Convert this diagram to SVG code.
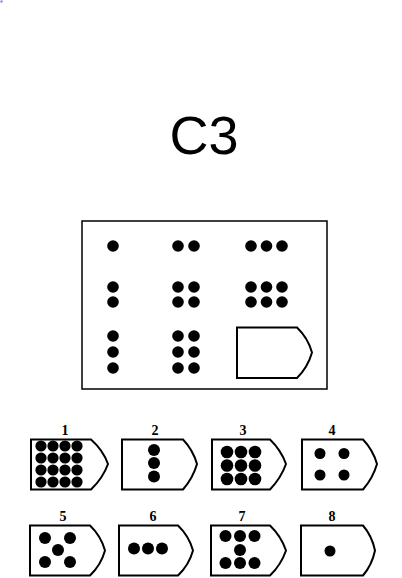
<svg xmlns="http://www.w3.org/2000/svg" width="402" height="578" viewBox="0 0 402 578">
<style>
.bx{fill:#fff;stroke:#000;stroke-width:2;stroke-linejoin:miter}
.fr{fill:#fff;stroke:#000;stroke-width:1.5}
.d{fill:#000}
.lb{font-family:"Liberation Serif",serif;font-weight:bold;font-size:14px;text-anchor:middle;fill:#000}
.tt{font-family:"Liberation Sans",Arial,sans-serif;font-size:54px;text-anchor:middle;fill:#000}
</style>
<rect width="402" height="578" fill="#fff"/>
<rect x="0.5" y="0.5" width="2" height="2" fill="#6f6fff"/>
<text class="tt" x="204" y="154">C3</text>
<g id="matrix">
<rect class="fr" x="82" y="221" width="245" height="168"/>
<g class="d">
<circle cx="113" cy="246" r="5.8"/>
<circle cx="178" cy="246" r="5.8"/><circle cx="194" cy="246" r="5.8"/>
<circle cx="251" cy="246" r="5.8"/><circle cx="266.5" cy="246" r="5.8"/><circle cx="282" cy="246" r="5.8"/>
<circle cx="113" cy="287" r="5.8"/><circle cx="113" cy="302" r="5.8"/>
<circle cx="178" cy="287" r="5.8"/><circle cx="194" cy="287" r="5.8"/><circle cx="178" cy="302" r="5.8"/><circle cx="194" cy="302" r="5.8"/>
<circle cx="251" cy="287" r="5.8"/><circle cx="266.5" cy="287" r="5.8"/><circle cx="282" cy="287" r="5.8"/>
<circle cx="251" cy="302" r="5.8"/><circle cx="266.5" cy="302" r="5.8"/><circle cx="282" cy="302" r="5.8"/>
<circle cx="113" cy="336" r="5.8"/><circle cx="113" cy="352" r="5.8"/><circle cx="113" cy="368" r="5.8"/>
<circle cx="178" cy="336" r="5.8"/><circle cx="194" cy="336" r="5.8"/>
<circle cx="178" cy="352" r="5.8"/><circle cx="194" cy="352" r="5.8"/>
<circle cx="178" cy="368" r="5.8"/><circle cx="194" cy="368" r="5.8"/>
</g>
<path id="blank" class="bx" d="M237,327.5 H297 Q308,338 312,352.5 Q308,367 297,378 H237 Z"/>
</g>
<g id="opt1">
<text class="lb" x="65" y="435">1</text>
<path class="bx" d="M31,439.5 H91 Q103,450 108,464 Q103,478 91,489.5 H31 Z"/>
<g class="d">
<circle cx="41" cy="446" r="5.6"/><circle cx="53" cy="446" r="5.6"/><circle cx="65" cy="446" r="5.6"/><circle cx="77" cy="446" r="5.6"/>
<circle cx="41" cy="458" r="5.6"/><circle cx="53" cy="458" r="5.6"/><circle cx="65" cy="458" r="5.6"/><circle cx="77" cy="458" r="5.6"/>
<circle cx="41" cy="470" r="5.6"/><circle cx="53" cy="470" r="5.6"/><circle cx="65" cy="470" r="5.6"/><circle cx="77" cy="470" r="5.6"/>
<circle cx="41" cy="482" r="5.6"/><circle cx="53" cy="482" r="5.6"/><circle cx="65" cy="482" r="5.6"/><circle cx="77" cy="482" r="5.6"/>
</g>
</g>
<g id="opt2">
<text class="lb" x="155" y="435">2</text>
<path class="bx" d="M122,439.5 H183 Q193,450 197,464 Q193,478 183,489.5 H122 Z"/>
<g class="d">
<circle cx="154" cy="450" r="6"/><circle cx="154" cy="463" r="6"/><circle cx="154" cy="476.5" r="6"/>
</g>
</g>
<g id="opt3">
<text class="lb" x="243" y="435">3</text>
<path class="bx" d="M212,439.5 H270 Q281,450 286,464 Q281,478 270,489.5 H212 Z"/>
<g class="d">
<circle cx="227" cy="452" r="6.3"/><circle cx="241" cy="452" r="6.3"/><circle cx="255" cy="452" r="6.3"/>
<circle cx="227" cy="465.5" r="6.3"/><circle cx="241" cy="465.5" r="6.3"/><circle cx="255" cy="465.5" r="6.3"/>
<circle cx="227" cy="479" r="6.3"/><circle cx="241" cy="479" r="6.3"/><circle cx="255" cy="479" r="6.3"/>
</g>
</g>
<g id="opt4">
<text class="lb" x="332" y="435">4</text>
<path class="bx" d="M302,439.5 H363 Q373,450 377,464 Q373,478 363,489.5 H302 Z"/>
<g class="d">
<circle cx="320" cy="453.5" r="5.5"/><circle cx="344" cy="453.5" r="5.5"/>
<circle cx="320" cy="475" r="5.5"/><circle cx="344" cy="475" r="5.5"/>
</g>
</g>
<g id="opt5">
<text class="lb" x="63" y="521">5</text>
<path class="bx" d="M30,525.5 H90 Q101,536 105,550.5 Q101,565 90,575.5 H30 Z"/>
<g class="d">
<circle cx="45" cy="538" r="6"/><circle cx="70" cy="538" r="6"/>
<circle cx="58" cy="550" r="6"/>
<circle cx="45" cy="562" r="6"/><circle cx="70" cy="562" r="6"/>
</g>
</g>
<g id="opt6">
<text class="lb" x="153" y="521">6</text>
<path class="bx" d="M119,525.5 H178 Q189,536 193,550.5 Q189,565 178,575.5 H119 Z"/>
<g class="d">
<circle cx="134" cy="548.5" r="6"/><circle cx="148" cy="548.5" r="6"/><circle cx="162" cy="548.5" r="6"/>
</g>
</g>
<g id="opt7">
<text class="lb" x="242" y="521">7</text>
<path class="bx" d="M211,525.5 H270 Q281,536 286,550.5 Q281,565 270,575.5 H211 Z"/>
<g class="d">
<circle cx="225.5" cy="536" r="6"/><circle cx="240" cy="536" r="6"/><circle cx="254.5" cy="536" r="6"/>
<circle cx="240" cy="550" r="6"/>
<circle cx="225.5" cy="563" r="6"/><circle cx="240" cy="563" r="6"/><circle cx="254.5" cy="563" r="6"/>
</g>
</g>
<g id="opt8">
<text class="lb" x="332" y="521">8</text>
<path class="bx" d="M301,525.5 H363 Q372,536 375,550.5 Q372,565 363,575.5 H301 Z"/>
<circle class="d" cx="330" cy="551" r="5.5"/>
</g>
</svg>
